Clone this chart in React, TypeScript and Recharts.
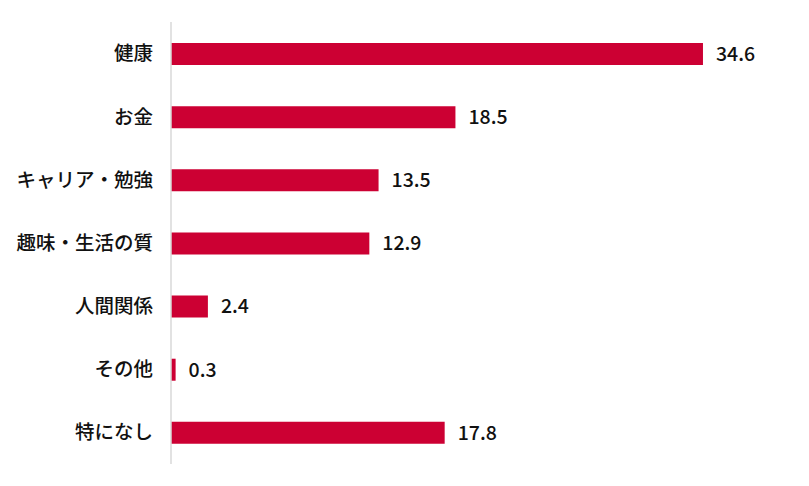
import React from "react";
import { Bar, BarChart, LabelList, XAxis, YAxis } from "recharts";

const categories = ["健康", "お金", "キャリア・勉強", "趣味・生活の質", "人間関係", "その他", "特になし"];
const values = [34.6, 18.5, 13.5, 12.9, 2.4, 0.3, 17.8];

const FONT = "'Noto Sans CJK JP', 'Noto Sans', sans-serif";

export default function App() {
  const data = categories.map((name, i) => ({ name, value: values[i] }));

  return (
    <div style={{ position: "absolute", left: 0, top: 0, width: 809, height: 486, background: "#fff", fontFamily: FONT }}>
      <BarChart
        width={809}
        height={486}
        data={data}
        layout="vertical"
        margin={{ top: 22, right: 23, bottom: 22, left: 0 }}
      >
        <XAxis type="number" domain={[0, 40]} hide />
        <YAxis
          type="category"
          dataKey="name"
          width={171}
          axisLine={{ stroke: "#d9d9d9", strokeWidth: 1.5 }}
          tickLine={false}
          tickSize={0}
          tickMargin={18}
          tick={{ fill: "#111", fontSize: 19.5, fontWeight: 500, fontFamily: FONT }}
        />
        <Bar dataKey="value" fill="#cc0033" barSize={22} isAnimationActive={false}>
          <LabelList
            dataKey="value"
            position="right"
            offset={13}
            style={{ fill: "#111", fontSize: 19.5, fontWeight: 500, fontFamily: FONT }}
          />
        </Bar>
      </BarChart>
    </div>
  );
}
